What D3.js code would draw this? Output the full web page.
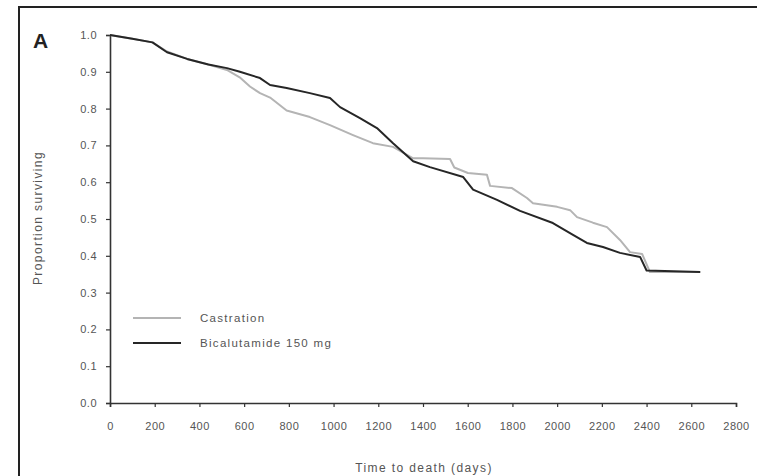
<!DOCTYPE html>
<html>
<head>
<meta charset="utf-8">
<script src="https://cdn.jsdelivr.net/npm/d3@7"></script>
<style>
	html, body { margin: 0; padding: 0; background: #fff; }
	svg { display: block; font-family: "Liberation Sans", Arial, sans-serif; }
</style>
</head>
<body>
<svg id="chart" width="757" height="476"></svg>
<script>
'use strict';

// survival curves: [days, proportion]
var castration = [
	[0, 1.0], [100, 0.99], [190, 0.98], [255, 0.955], [345, 0.935], [440, 0.92],
	[523, 0.905], [580, 0.885], [626, 0.86], [671, 0.842], [716, 0.83], [790, 0.795],
	[894, 0.777], [984, 0.755], [1087, 0.728], [1176, 0.706], [1266, 0.696],
	[1356, 0.665], [1400, 0.665], [1521, 0.663], [1540, 0.64], [1601, 0.625],
	[1686, 0.62], [1700, 0.59], [1798, 0.584], [1865, 0.557], [1892, 0.543],
	[2000, 0.533], [2058, 0.524], [2089, 0.505], [2160, 0.49], [2223, 0.478],
	[2281, 0.443], [2326, 0.41], [2380, 0.405], [2415, 0.356], [2640, 0.356]
];

var bicalutamide = [
	[0, 1.0], [100, 0.99], [190, 0.98], [255, 0.953], [345, 0.935], [440, 0.92],
	[523, 0.91], [581, 0.9], [671, 0.883], [716, 0.864], [790, 0.856], [894, 0.842],
	[984, 0.829], [1029, 0.804], [1118, 0.774], [1194, 0.747], [1266, 0.706],
	[1356, 0.657], [1431, 0.641], [1580, 0.614], [1624, 0.58], [1731, 0.552],
	[1834, 0.522], [1981, 0.489], [2071, 0.457], [2133, 0.435], [2205, 0.424],
	[2281, 0.408], [2371, 0.397], [2400, 0.36], [2640, 0.356]
];

var xTicks = [0, 200, 400, 600, 800, 1000, 1200, 1400, 1600, 1800, 2000, 2200, 2400, 2600, 2800];
var yTicks = [0, 0.1, 0.2, 0.3, 0.4, 0.5, 0.6, 0.7, 0.8, 0.9, 1.0];

var seriesNames = ['Castration', 'Bicalutamide 150 mg'];
var seriesColors = ['#b4b4b4', '#262626'];

(function() {

	var svg = d3.select('svg#chart');

	var x = d3.scaleLinear().domain([0, 2800]).range([110, 736]);
	var y = d3.scaleLinear().domain([0, 1]).range([403, 35]);

	// panel frame (top and left edges only are visible)
	svg.append('path')
		.attr('d', 'M19,476V7H757')
		.attr('fill', 'none')
		.attr('stroke', '#222')
		.attr('stroke-width', 2);

	svg.append('text')
		.attr('x', 33)
		.attr('y', 48)
		.attr('font-size', 21)
		.attr('font-weight', 'bold')
		.attr('fill', '#222')
		.text('A');

	var xAxis = svg.append('g')
		.attr('transform', 'translate(0,' + y(0) + ')')
		.call(d3.axisBottom(x).tickValues(xTicks).tickSize(4).tickPadding(15)
			.tickFormat(d3.format('d')));

	var yAxis = svg.append('g')
		.attr('transform', 'translate(' + x(0) + ',0)')
		.call(d3.axisLeft(y).tickValues(yTicks).tickSize(4).tickPadding(9)
			.tickFormat(d3.format('.1f')));

	[xAxis, yAxis].forEach(function(axis) {
		axis.select('.domain').attr('stroke', '#333').attr('stroke-width', 1.6);
		axis.selectAll('.tick line').attr('stroke', '#333').attr('stroke-width', 1.2);
		axis.selectAll('.tick text')
			.attr('fill', '#555')
			.attr('font-size', 11)
			.attr('letter-spacing', 0.5)
			.attr('font-family', '"Liberation Sans", Arial, sans-serif');
	});

	svg.append('text')
		.attr('x', 424)
		.attr('y', 472)
		.attr('text-anchor', 'middle')
		.attr('font-size', 12)
		.attr('letter-spacing', 1.4)
		.attr('fill', '#555')
		.text('Time to death (days)');

	svg.append('text')
		.attr('transform', 'translate(42,218) rotate(-90)')
		.attr('text-anchor', 'middle')
		.attr('font-size', 12)
		.attr('letter-spacing', 1.4)
		.attr('fill', '#555')
		.text('Proportion surviving');

	var line = d3.line()
		.x(function(d) { return x(d[0]); })
		.y(function(d) { return y(d[1]); });

	var series = [castration, bicalutamide];
	series.forEach(function(data, i) {
		svg.append('path')
			.datum(data)
			.attr('d', line)
			.attr('fill', 'none')
			.attr('stroke', seriesColors[i])
			.attr('stroke-width', 2)
			.attr('stroke-linejoin', 'round');
	});

	// legend
	var legend = svg.append('g');
	seriesNames.forEach(function(name, i) {
		var ly = 318 + i * 25;
		legend.append('line')
			.attr('x1', 133)
			.attr('x2', 181)
			.attr('y1', ly)
			.attr('y2', ly)
			.attr('stroke', seriesColors[i])
			.attr('stroke-width', 2);
		legend.append('text')
			.attr('x', 200)
			.attr('y', ly + 4)
			.attr('font-size', 11.5)
			.attr('letter-spacing', 1.3)
			.attr('fill', '#555')
			.text(name);
	});
})();
</script>
</body>
</html>
